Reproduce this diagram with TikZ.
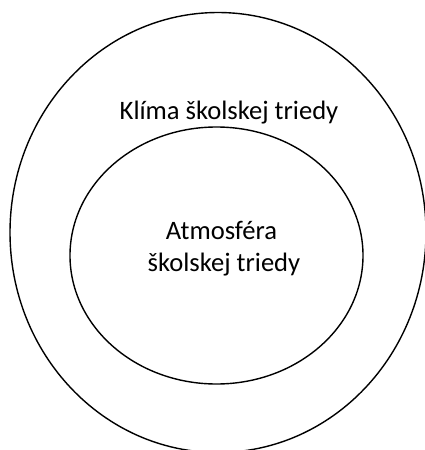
\documentclass[tikz,border=0pt]{standalone}
\usepackage{fontspec}
\setmainfont{Carlito}
\begin{document}
\begin{tikzpicture}[x=1pt,y=1pt,
  ring/.style={draw=black,line width=1.4pt},
  lbl/.style={font=\fontsize{26.6}{32}\selectfont,inner sep=0pt,align=center}]
\useasboundingbox (0,0) rectangle (425,-450);
\draw[ring] (218,-232.5) ellipse [x radius=208, y radius=220];
\draw[ring] (216.5,-255.5) ellipse [x radius=146.5, y radius=128.5];
\node[lbl,anchor=base] (outer) at (229,-119.5) {Klíma školskej triedy};
\node[lbl,anchor=base] (inner1) at (221.5,-239) {Atmosféra};
\node[lbl,anchor=base] (inner2) at (224,-271) {školskej triedy};
\end{tikzpicture}
\end{document}
